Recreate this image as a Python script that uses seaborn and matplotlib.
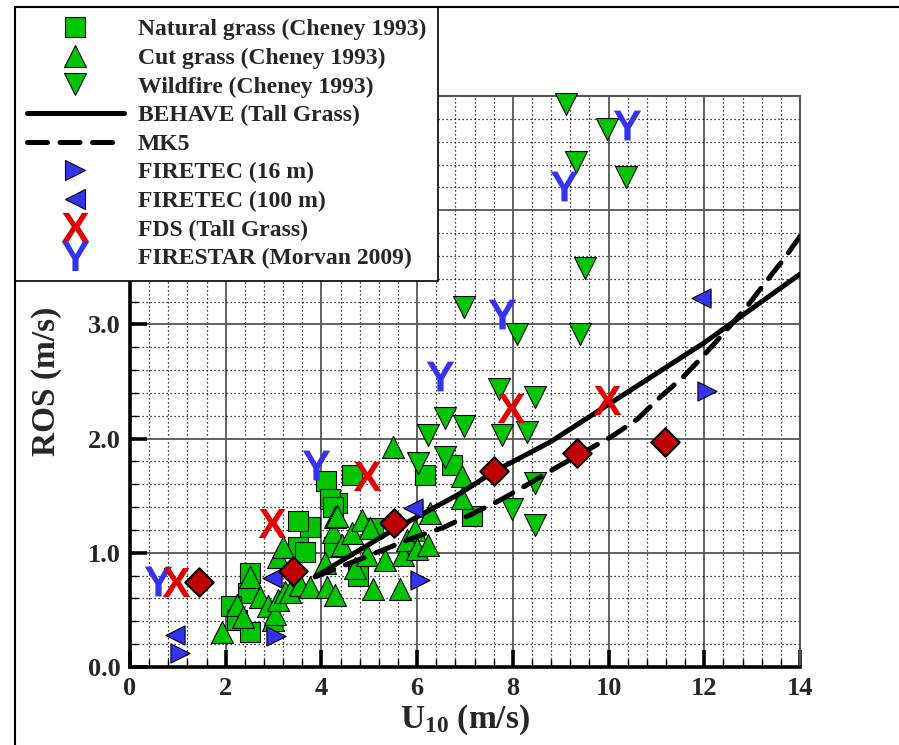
import numpy as np
import pandas as pd
import matplotlib
matplotlib.use("Agg")
import matplotlib.pyplot as plt
from matplotlib.lines import Line2D
from matplotlib.ticker import MultipleLocator, FormatStrFormatter
import seaborn as sns

# ---------------------------------------------------------
# data
# ---------------------------------------------------------
# Natural grass (Cheney 1993)
x_nat = [4.09, 4.63, 6.16, 6.72, 7.15, 4.32, 4.18, 4.24, 3.77, 3.52,
         3.52, 3.66, 4.26, 5.08, 4.77, 2.51, 2.47, 2.12, 2.23, 2.51]
y_nat = [1.63, 1.68, 1.68, 1.77, 1.32, 1.44, 1.47, 1.40, 1.23, 1.28,
         1.05, 1.01, 1.05, 1.22, 0.80, 0.82, 0.65, 0.53, 0.41, 0.31]

# Cut grass (Cheney 1993)
x_cut = [1.92, 2.24, 2.36, 2.51, 2.72, 2.88, 2.99, 3.03, 3.09, 3.24,
         3.34, 3.09, 3.20, 3.55, 3.76, 4.07, 4.12, 4.28, 4.24, 4.28,
         4.32, 4.43, 4.64, 4.70, 4.85, 4.95, 5.01, 5.08, 5.33, 5.50,
         5.64, 5.70, 5.78, 5.95, 6.00, 6.23, 6.27, 6.93, 6.93]
y_cut = [0.31, 0.54, 0.44, 0.79, 0.61, 0.53, 0.41, 0.46, 0.59, 0.66,
         0.66, 0.96, 1.05, 0.72, 0.70, 0.91, 0.70, 0.63, 1.18, 1.31,
         1.32, 1.07, 1.17, 0.87, 1.29, 0.98, 1.22, 0.68, 0.94, 1.93,
         0.68, 0.98, 1.11, 1.20, 1.03, 1.07, 1.35, 1.67, 1.48]

# Wildfire (Cheney 1993)
x_wild = [9.12, 9.97, 9.32, 10.36, 9.51, 6.98, 8.09, 9.40, 7.71, 8.46,
          6.58, 6.98, 6.23, 7.77, 8.29, 6.58, 6.02, 8.46, 7.98, 8.46]
y_wild = [4.93, 4.71, 4.42, 4.29, 3.49, 3.15, 2.92, 2.92, 2.43, 2.36,
          2.18, 2.11, 2.03, 2.03, 2.06, 1.84, 1.79, 1.61, 1.38, 1.24]

# BEHAVE (Tall Grass)
x_behave = [3.87, 4.5, 5.5, 6.9, 7.6, 8.78, 10.0, 11.0, 12.0, 13.0, 14.0]
y_behave = [0.79, 0.95, 1.20, 1.52, 1.71, 1.97, 2.30, 2.57, 2.84, 3.14, 3.44]

# MK5
x_mk5 = [3.87, 4.9, 5.91, 6.54, 7.10, 7.73, 8.36, 8.92, 10.07, 10.60,
         11.07, 11.56, 11.97, 12.40, 12.90, 13.30, 13.64, 14.0]
y_mk5 = [0.79, 0.96, 1.13, 1.22, 1.33, 1.46, 1.61, 1.75, 2.02, 2.17,
         2.36, 2.54, 2.72, 2.92, 3.16, 3.38, 3.56, 3.77]

# FIRETEC
x_ft16 = [1.04, 3.06, 6.06, 12.05]
y_ft16 = [0.12, 0.27, 0.76, 2.42]
x_ft100 = [0.94, 2.96, 5.92, 11.94]
y_ft100 = [0.28, 0.78, 1.39, 3.23]

# FDS (Tall Grass)
x_fds = [0.96, 2.96, 4.95, 7.97, 9.97]
y_fds = [0.74, 1.26, 1.67, 2.27, 2.34]

# red diamonds (no legend entry)
x_dia = [1.44, 3.41, 5.52, 7.61, 9.33, 11.18]
y_dia = [0.74, 0.84, 1.26, 1.72, 1.87, 1.97]

# FIRESTAR (Morvan 2009)
x_star = [0.58, 3.89, 6.48, 7.77, 9.07, 10.38]
y_star = [0.75, 1.77, 2.55, 3.09, 4.21, 4.75]

labels = ["Natural grass (Cheney 1993)", "Cut grass (Cheney 1993)",
          "Wildfire (Cheney 1993)", "BEHAVE (Tall Grass)", "MK5",
          "FIRETEC (16 m)", "FIRETEC (100 m)", "FDS (Tall Grass)",
          "FIRESTAR (Morvan 2009)"]

# ---------------------------------------------------------
# style
# ---------------------------------------------------------
sns.set_theme(style="white")
plt.rcParams["font.family"] = ["Liberation Serif", "DejaVu Serif"]
plt.rcParams["font.weight"] = "bold"
plt.rcParams["mathtext.fontset"] = "custom"
plt.rcParams["mathtext.rm"] = "Liberation Serif:bold"
plt.rcParams["mathtext.it"] = "Liberation Serif:bold"
plt.rcParams["mathtext.bf"] = "Liberation Serif:bold"
plt.rcParams["mathtext.sf"] = "Liberation Sans:bold"

green = "#00c400"
blue = "#3333f0"
red = "#e00000"
dred = "#c00000"
Y_MARK = r"$\mathsf{Y}$"
X_MARK = r"$\mathsf{X}$"

fig = plt.figure(figsize=(8.99, 7.45), dpi=100)
ax = fig.add_axes([130 / 899, 1 - 667 / 745, 670 / 899, 571 / 745])

# ---------------------------------------------------------
# data
# ---------------------------------------------------------
sns.scatterplot(x=x_nat, y=y_nat, marker="s", s=207, color=green,
                edgecolor="black", linewidth=0.8, ax=ax, zorder=3)
sns.scatterplot(x=x_cut, y=y_cut, marker="^", s=250, color=green,
                edgecolor="black", linewidth=0.8, ax=ax, zorder=3)
sns.scatterplot(x=x_wild, y=y_wild, marker="v", s=250, color=green,
                edgecolor="black", linewidth=0.8, ax=ax, zorder=3, clip_on=False)

sns.lineplot(x=x_behave, y=y_behave, color="black", lw=3.6, sort=False,
             estimator=None, ax=ax, zorder=4)
sns.lineplot(x=x_mk5, y=y_mk5, color="black", lw=3.6, sort=False,
             estimator=None, ax=ax, zorder=4, linestyle=(0, (4, 2.5)),
             dash_capstyle="round")

sns.scatterplot(x=x_ft16, y=y_ft16, marker=">", s=190, color=blue,
                edgecolor="black", linewidth=0.8, ax=ax, zorder=5)
sns.scatterplot(x=x_ft100, y=y_ft100, marker="<", s=190, color=blue,
                edgecolor="black", linewidth=0.8, ax=ax, zorder=5)
sns.scatterplot(x=x_star, y=y_star, marker=Y_MARK, s=460, color=blue,
                linewidth=0, ax=ax, zorder=6)
sns.scatterplot(x=x_fds, y=y_fds, marker=X_MARK, s=440, color=red,
                linewidth=0, ax=ax, zorder=6)
sns.scatterplot(x=x_dia, y=y_dia, marker="D", s=210, color=dred,
                edgecolor="black", linewidth=1.5, ax=ax, zorder=7)

# ---------------------------------------------------------
# axes
# ---------------------------------------------------------
ax.set_xlim(0, 14)
ax.set_ylim(0, 5.0)
ax.xaxis.set_major_locator(MultipleLocator(2))
ax.xaxis.set_minor_locator(MultipleLocator(0.4))
ax.yaxis.set_major_locator(MultipleLocator(1))
ax.yaxis.set_minor_locator(MultipleLocator(0.2))
ax.yaxis.set_major_formatter(FormatStrFormatter("%.1f"))
ax.set_axisbelow(True)
ax.grid(which="major", color="#555555", lw=1.3, ls="-")
ax.grid(which="minor", color="black", lw=0.9, ls=(0, (1, 2.2)))

for side in ["left", "bottom"]:
    ax.spines[side].set_color("black")
    ax.spines[side].set_linewidth(2.6)
for side in ["top", "right"]:
    ax.spines[side].set_color("#555555")
    ax.spines[side].set_linewidth(1.5)

ax.tick_params(which="major", direction="in", length=12, width=2.6,
               labelsize=19, pad=7, color="black", bottom=True, left=True)
ax.tick_params(which="minor", direction="in", length=6, width=1,
               color="black", bottom=True, left=True)
for lab in ax.get_xticklabels() + ax.get_yticklabels():
    lab.set_fontweight("bold")

ax.set_xlabel(r"U$_{10}$ (m/s)", fontsize=24, fontweight="bold", labelpad=2)
ax.set_ylabel("ROS (m/s)", fontsize=24, fontweight="bold", labelpad=18)

# ---------------------------------------------------------
# legend
# ---------------------------------------------------------
handles = [
    Line2D([], [], ls="none", marker="s", ms=14.4, mfc=green, mec="black", mew=0.8),
    Line2D([], [], ls="none", marker="^", ms=15.8, mfc=green, mec="black", mew=0.8),
    Line2D([], [], ls="none", marker="v", ms=15.8, mfc=green, mec="black", mew=0.8),
    Line2D([], [], color="black", lw=3.6),
    Line2D([], [], color="black", lw=3.6, ls=(0, (4, 2.5)), dash_capstyle="round"),
    Line2D([], [], ls="none", marker=">", ms=13.8, mfc=blue, mec="black", mew=0.8),
    Line2D([], [], ls="none", marker="<", ms=13.8, mfc=blue, mec="black", mew=0.8),
    Line2D([], [], ls="none", marker=X_MARK, ms=21, color=red, mew=0),
    Line2D([], [], ls="none", marker=Y_MARK, ms=21, color=blue, mew=0),
]
leg = ax.legend(handles, labels, loc="upper left",
                bbox_to_anchor=(15 / 899, 1 - 7 / 745),
                bbox_transform=fig.transFigure, borderaxespad=0,
                frameon=True, fancybox=False, edgecolor="black", framealpha=1,
                borderpad=0.5, handlelength=4.1, handletextpad=0.6,
                labelspacing=0.3, numpoints=1,
                prop={"family": "Liberation Serif", "weight": "bold", "size": 17})
leg.get_frame().set_linewidth(1.2)
leg.set_zorder(10)

# frame lines of the original screenshot
fig.add_artist(Line2D([15 / 899, 1], [1 - 7 / 745, 1 - 7 / 745],
                      transform=fig.transFigure, color="black", lw=1.5))
fig.add_artist(Line2D([15 / 899, 15 / 899], [0, 1 - 7 / 745],
                      transform=fig.transFigure, color="black", lw=1.5))

fig.savefig("out.png", dpi=100)
